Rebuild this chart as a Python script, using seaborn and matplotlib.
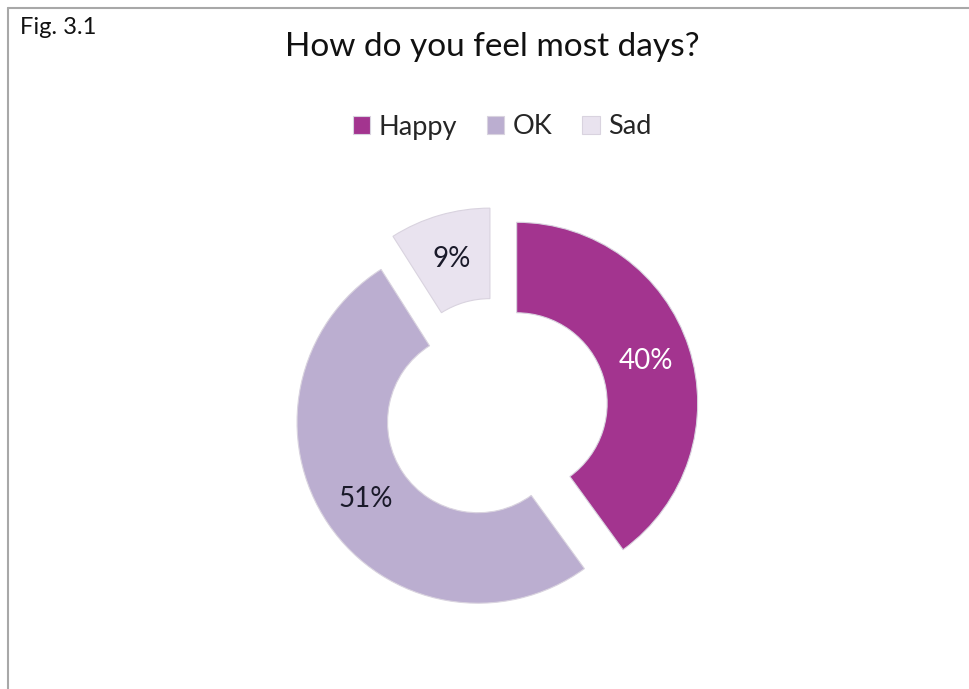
import matplotlib
matplotlib.use('Agg')
import matplotlib.pyplot as plt
import seaborn as sns
from matplotlib.lines import Line2D

# data
feelings = ['Happy', 'OK', 'Sad']
shares = [40, 51, 9]
share_labels = ['40%', '51%', '9%']
colors = ['#a3348f', '#bbaed0', '#e9e3ef']
label_colors = ['white', '#1a1a2a', '#1a1a2a']

sns.set_theme(style='white')
plt.rcParams['font.family'] = ['Lato', 'DejaVu Sans']

W, H = 970, 689
fig = plt.figure(figsize=(W / 100, H / 100), dpi=100)
ax = fig.add_axes([0, 0, 1, 1])

# donut centre / radius in pixels
cx, cy, R = 496, 410, 181

wedges, texts, autotexts = ax.pie(
    shares,
    colors=colors,
    startangle=90,
    counterclock=False,
    explode=[0.12, 0.12, 0.12],
    radius=1,
    autopct='%d%%',
    pctdistance=0.75,
    wedgeprops=dict(width=0.5, edgecolor='#d9d3df', linewidth=0.8),
    textprops=dict(fontsize=20),
)
for t, lab, c in zip(autotexts, share_labels, label_colors):
    t.set_text(lab)
    t.set_color(c)

ax.set_xlim((0 - cx) / R, (W - cx) / R)
ax.set_ylim((cy - H) / R, cy / R)
ax.set_aspect('auto')
ax.axis('off')

fig.text(492 / W, 1 - 47 / H, 'How do you feel most days?', ha='center', va='center',
         fontsize=24, color='#111111')
fig.text(20 / W, 1 - 28 / H, 'Fig. 3.1', ha='left', va='center', fontsize=17, color='#111111')

fig.legend(wedges, feelings, loc='center', bbox_to_anchor=(502 / W, 1 - 127 / H),
           ncol=3, frameon=False, fontsize=19.5, handlelength=0.65, handleheight=0.65,
           handletextpad=0.3, columnspacing=1.1)

# frame lines at top and left
fig.add_artist(Line2D([8 / W, 1], [1 - 8 / H, 1 - 8 / H], color='#a8a8a8', lw=1.5))
fig.add_artist(Line2D([8 / W, 8 / W], [0, 1 - 8 / H], color='#a8a8a8', lw=1.5))

fig.savefig('out.png', dpi=100, facecolor='white')
